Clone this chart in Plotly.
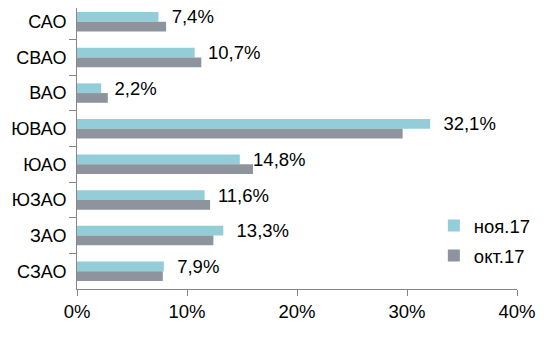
import plotly.graph_objects as go

categories = ["САО", "СВАО", "ВАО", "ЮВАО", "ЮАО", "ЮЗАО", "ЗАО", "СЗАО"]
nov_values = [7.4, 10.7, 2.2, 32.1, 14.8, 11.6, 13.3, 7.9]
oct_values = [8.1, 11.3, 2.8, 29.6, 16.0, 12.1, 12.4, 7.8]
nov_name = "ноя.17"
oct_name = "окт.17"
x_ticks = [0, 10, 20, 30, 40]
x_tick_labels = ["0%", "10%", "20%", "30%", "40%"]

FONT = "Liberation Sans, Arial, sans-serif"
FS = 18.5
TEAL = "#93CDD8"
GRAY = "#8D949D"
AXIS = "#878787"

nov_text = ["\u00a0\u00a0" + f"{v:.1f}".replace(".", ",") + "%" for v in nov_values]

fig = go.Figure()
fig.add_trace(go.Bar(
    y=categories, x=nov_values, orientation="h", name=nov_name,
    marker=dict(color=TEAL, line=dict(width=0)),
    text=nov_text, textposition="outside", constraintext="none", cliponaxis=False,
    textfont=dict(family=FONT, size=FS, color="#000000"),
    legendgroup="a",
))
fig.add_trace(go.Bar(
    y=categories, x=oct_values, orientation="h", name=oct_name,
    marker=dict(color=GRAY, line=dict(width=0)),
    legendgroup="b",
))

fig.update_layout(
    width=549, height=363,
    margin=dict(l=69, r=40, t=0, b=82, autoexpand=False),
    paper_bgcolor="white", plot_bgcolor="white",
    barmode="group", bargap=0.455, bargroupgap=0,
    font=dict(family=FONT, size=FS, color="#000000"),
    showlegend=True,
    legend=dict(
        x=0.811, y=0.171, xanchor="left", yanchor="middle",
        traceorder="grouped", tracegroupgap=3,
        font=dict(family=FONT, size=FS, color="#000000"),
        bgcolor="rgba(0,0,0,0)",
    ),
    xaxis=dict(
        range=[0, 40], tickvals=x_ticks, ticktext=x_tick_labels,
        showgrid=False, zeroline=False, automargin=False,
        showline=True, linecolor=AXIS, linewidth=1,
        ticks="outside", ticklen=6, tickcolor=AXIS,
        tickfont=dict(family=FONT, size=FS, color="#000000"),
        ticklabelstandoff=0,
    ),
    yaxis=dict(
        range=[7.5, -0.388], showgrid=False, zeroline=False, automargin=False,
        showline=True, linecolor=AXIS, linewidth=1,
        ticks="outside", ticklen=7, tickcolor=AXIS, tickson="boundaries",
        tickfont=dict(family=FONT, size=18, color="#000000"),
        ticklabelstandoff=6,
    ),
)

fig.write_html("out.html")
